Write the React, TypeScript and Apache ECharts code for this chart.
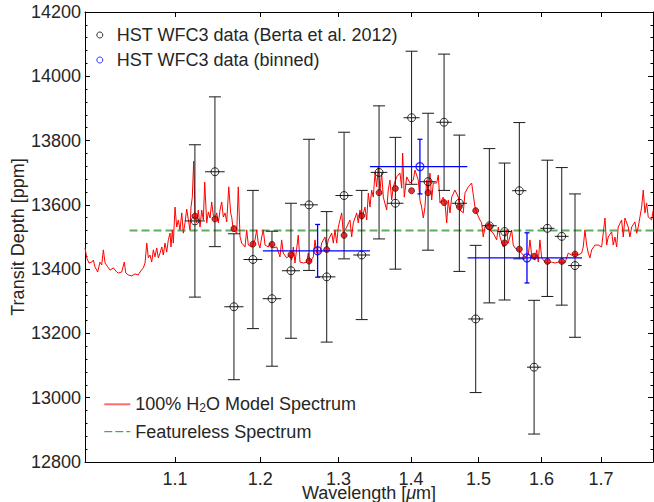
import React, { useEffect, useRef } from 'react';
import * as echarts from 'echarts';

const FONT = '"Liberation Sans", Arial, Helvetica, sans-serif';
const TEXT = '#262626';

// ---- axes ----
const xTickValues = [1.1, 1.2, 1.3, 1.4, 1.5, 1.6, 1.7];
const xMin = 1.0033;
const xMax = 1.793;
const yMin = 12800;
const yMax = 14200;
const yStep = 200;

// ---- names ----
const NAME_DATA = 'HST WFC3 data (Berta et al. 2012)';
const NAME_BINNED = 'HST WFC3 data (binned)';
const NAME_MODEL = '100% H₂O Model Spectrum';
const NAME_FLAT = 'Featureless Spectrum';

// ---- HST WFC3 data (Berta et al. 2012) ----
const dataWavelength = [1.1226, 1.1458, 1.1683, 1.1912, 1.2146, 1.2384, 1.2615, 1.2845, 1.3075, 1.3313, 1.3551, 1.3779, 1.4009, 1.4247, 1.4482, 1.471, 1.4958, 1.5168, 1.5406, 1.564, 1.5878, 1.6095, 1.6333, 1.6556];
const dataDepth = [13550, 13703, 13283, 13430, 13308, 13395, 13600, 13376, 13629, 13444, 13701, 13605, 13871, 13672, 13857, 13605, 13245, 13535, 13517, 13644, 13095, 13527, 13502, 13411];
const dataError = [237, 233, 227, 215, 210, 210, 204, 203, 197, 201, 207, 205, 207, 213, 212, 212, 229, 240, 213, 212, 208, 212, 214, 223];
const dataHalfBin = 0.0115;

// ---- model binned at data wavelengths ----
const modelBinned = [13565, 13556, 13526, 13478, 13477, 13445, 13425, 13461, 13505, 13566, 13638, 13651, 13644, 13638, 13607, 13594, 13582, 13532, 13482, 13462, 13440, 13424, 13424, 13447];

// ---- binned data ----
const binWavelength = [1.2726, 1.4129, 1.5763];
const binLow = [1.2034, 1.3425, 1.4834];
const binHigh = [1.3425, 1.483, 1.6675];
const binDepth = [13457, 13719, 13435];
const binError = [82, 85, 78];

// ---- featureless spectrum ----
const flatDepth = 13520;
const flatWavelength = [1.05, 1.8];

// ---- 100% H2O model spectrum ----
const modelWavelength = [
  1.0033, 1.0051, 1.0074, 1.0102, 1.0119, 1.0136, 1.0164, 1.0188, 1.0206, 1.0223,
  1.0241, 1.0269, 1.0293, 1.0328, 1.0364, 1.0381, 1.0417, 1.0444, 1.046, 1.0487,
  1.0524, 1.0559, 1.0595, 1.0613, 1.0649, 1.0668, 1.0687, 1.0704, 1.0723, 1.0741,
  1.0759, 1.0777, 1.0796, 1.0814, 1.0833, 1.0852, 1.0869, 1.0888, 1.0907, 1.0925,
  1.0944, 1.0955, 1.097, 1.0981, 1.1, 1.1019, 1.1037, 1.1056, 1.1076, 1.1094,
  1.1113, 1.1132, 1.1151, 1.117, 1.1181, 1.1196, 1.1212, 1.1227, 1.1247, 1.1265,
  1.1285, 1.1304, 1.1323, 1.1339, 1.1362, 1.1381, 1.1401, 1.142, 1.1439, 1.1459,
  1.1479, 1.1498, 1.1518, 1.1538, 1.1557, 1.1577, 1.1597, 1.1621, 1.1644, 1.1656,
  1.1675, 1.1716, 1.1735, 1.1756, 1.1776, 1.1816, 1.1836, 1.1856, 1.1897, 1.1937,
  1.1958, 1.1977, 1.1998, 1.2019, 1.2039, 1.206, 1.2101, 1.2122, 1.2163, 1.2205,
  1.2246, 1.2267, 1.2287, 1.233, 1.2372, 1.2393, 1.2414, 1.2435, 1.2477, 1.2499,
  1.2541, 1.2585, 1.2605, 1.2627, 1.267, 1.2692, 1.2714, 1.2757, 1.2779, 1.2822,
  1.2845, 1.2866, 1.2911, 1.2932, 1.2954, 1.2977, 1.2998, 1.3043, 1.3064, 1.311,
  1.3154, 1.3177, 1.3199, 1.3245, 1.3266, 1.3289, 1.3312, 1.3357, 1.3381, 1.3403,
  1.3426, 1.3449, 1.3471, 1.3495, 1.3518, 1.354, 1.3564, 1.3587, 1.361, 1.3657,
  1.3679, 1.3703, 1.3727, 1.3749, 1.3797, 1.3844, 1.3868, 1.3882, 1.3905, 1.3939,
  1.3986, 1.4033, 1.4058, 1.4105, 1.413, 1.4154, 1.4178, 1.4202, 1.4227, 1.425,
  1.4275, 1.43, 1.4323, 1.4373, 1.4397, 1.4422, 1.447, 1.4495, 1.4521, 1.4544,
  1.457, 1.4595, 1.4644, 1.4694, 1.4719, 1.4769, 1.4795, 1.4845, 1.4896, 1.4947,
  1.4973, 1.5023, 1.5049, 1.5074, 1.51, 1.5151, 1.5178, 1.5229, 1.5282, 1.5307,
  1.5334, 1.5386, 1.5412, 1.5439, 1.5464, 1.5518, 1.5543, 1.557, 1.5623, 1.5677,
  1.573, 1.5784, 1.5811, 1.5838, 1.5892, 1.592, 1.5946, 1.5973, 1.6001, 1.6055,
  1.6109, 1.6166, 1.622, 1.6275, 1.6387, 1.6442, 1.6499, 1.6555, 1.6611, 1.6669,
  1.6696, 1.6725, 1.6754, 1.6782, 1.6811, 1.684, 1.6897, 1.6954, 1.7013, 1.7071,
  1.71, 1.7128, 1.7188, 1.7216, 1.7246, 1.7276, 1.7304, 1.7364, 1.7393, 1.7423,
  1.7482, 1.7512, 1.7543, 1.7602, 1.7633, 1.7662, 1.7692, 1.7723, 1.7752, 1.7783,
  1.7814, 1.7843, 1.7905, 1.7934,
];
const modelDepth = [
  13466, 13435, 13419, 13422, 13428, 13407, 13391, 13422, 13413, 13460,
  13419, 13407, 13397, 13404, 13391, 13388, 13391, 13422, 13388, 13382,
  13379, 13385, 13382, 13391, 13404, 13419, 13481, 13435, 13444, 13422,
  13460, 13438, 13466, 13435, 13450, 13469, 13444, 13481, 13453, 13491,
  13512, 13469, 13522, 13481, 13593, 13531, 13553, 13522, 13575, 13512,
  13544, 13587, 13553, 13522, 13593, 13624, 13736, 13575, 13544, 13584,
  13531, 13584, 13553, 13671, 13544, 13578, 13559, 13609, 13568, 13556,
  13575, 13544, 13584, 13609, 13562, 13575, 13547, 13656, 13575, 13562,
  13522, 13512, 13656, 13500, 13481, 13469, 13522, 13475, 13469, 13491,
  13522, 13481, 13466, 13500, 13522, 13475, 13469, 13481, 13466, 13469,
  13438, 13491, 13450, 13435, 13444, 13428, 13469, 13419, 13506, 13422,
  13419, 13422, 13450, 13422, 13438, 13491, 13450, 13450, 13481, 13500,
  13466, 13491, 13512, 13481, 13522, 13481, 13531, 13575, 13512, 13531,
  13553, 13500, 13544, 13575, 13544, 13584, 13553, 13593, 13553, 13637,
  13593, 13646, 13624, 13699, 13656, 13718, 13646, 13699, 13624, 13584,
  13646, 13677, 13615, 13656, 13687, 13699, 13652, 13761, 13624, 13687,
  13668, 13677, 13708, 13677, 13615, 13593, 13559, 13593, 13677, 13637,
  13699, 13615, 13668, 13668, 13693, 13606, 13624, 13606, 13544, 13615,
  13575, 13624, 13646, 13624, 13584, 13575, 13637, 13656, 13668, 13593,
  13575, 13553, 13544, 13500, 13531, 13544, 13522, 13512, 13491, 13531,
  13500, 13469, 13500, 13522, 13481, 13522, 13475, 13466, 13460, 13450,
  13438, 13444, 13491, 13444, 13428, 13460, 13422, 13491, 13435, 13422,
  13419, 13422, 13419, 13422, 13419, 13450, 13444, 13447, 13444, 13450,
  13469, 13522, 13475, 13450, 13435, 13460, 13475, 13475, 13469, 13559,
  13475, 13500, 13516, 13475, 13500, 13469, 13531, 13553, 13500, 13559,
  13531, 13500, 13531, 13547, 13512, 13531, 13562, 13593, 13646, 13575,
  13606, 13562, 13553, 13584,
];

function errorBars(color: string, capHalf: number, lw: number) {
  return (_params: any, api: any) => {
    const x = api.value(0);
    const y = api.value(1);
    const e = api.value(2);
    const lo = api.value(3);
    const hi = api.value(4);
    const t = api.coord([x, y + e]);
    const b = api.coord([x, y - e]);
    const l = api.coord([lo, y]);
    const r = api.coord([hi, y]);
    const style = { stroke: color, lineWidth: lw, fill: 'none' };
    const children: any[] = [
      { type: 'line', shape: { x1: t[0], y1: t[1], x2: b[0], y2: b[1] }, style },
      { type: 'line', shape: { x1: l[0], y1: l[1], x2: r[0], y2: r[1] }, style },
    ];
    if (capHalf > 0) {
      children.push({ type: 'line', shape: { x1: t[0] - capHalf, y1: t[1], x2: t[0] + capHalf, y2: t[1] }, style });
      children.push({ type: 'line', shape: { x1: b[0] - capHalf, y1: b[1], x2: b[0] + capHalf, y2: b[1] }, style });
    }
    return { type: 'group', children };
  };
}

function buildOption(): any {
  const textStyle = { fontFamily: FONT, fontSize: 18, color: TEXT };
  const hiddenSymbol = { color: 'rgba(0,0,0,0)', borderWidth: 0, opacity: 0 };
  const xAxisBase = {
    type: 'log',
    logBase: 10,
    min: xMin,
    max: xMax,
    splitLine: { show: false },
    minorTick: { show: false },
    axisLine: { show: true, onZero: false, lineStyle: { color: '#000', width: 1 } },
    axisTick: { show: true, inside: true, length: 5, customValues: xTickValues, lineStyle: { color: '#000', width: 1 } },
  };
  const yAxisBase = {
    type: 'value',
    min: yMin,
    max: yMax,
    interval: yStep,
    splitLine: { show: false },
    minorSplitLine: { show: false },
    axisLine: { show: true, onZero: false, lineStyle: { color: '#000', width: 1 } },
    axisTick: { show: true, inside: true, length: 5, lineStyle: { color: '#000', width: 1 } },
    minorTick: { show: true, splitNumber: 5, length: 2.5, lineStyle: { color: '#000', width: 1 } },
  };

  return {
    animation: false,
    backgroundColor: '#fff',
    grid: { left: 85, right: 1, top: 12, bottom: 40, containLabel: false, outerBoundsMode: 'none' },
    legend: [
      {
        orient: 'vertical',
        left: 96.3,
        top: 25,
        padding: 0,
        itemGap: 5,
        itemWidth: 24,
        itemHeight: 6,
        selectedMode: false,
        textStyle: { ...textStyle, lineHeight: 20 },
        data: [
          { name: NAME_DATA, icon: 'circle', itemStyle: { color: 'rgba(0,0,0,0)', borderColor: '#000', borderWidth: 1 } },
          { name: NAME_BINNED, icon: 'circle', itemStyle: { color: 'rgba(0,0,0,0)', borderColor: '#0000ff', borderWidth: 1 } },
        ],
      },
      {
        orient: 'vertical',
        left: 103.3,
        top: 394.3,
        padding: 0,
        itemGap: 7.4,
        itemWidth: 26,
        itemHeight: 10,
        selectedMode: false,
        textStyle: {
          ...textStyle,
          lineHeight: 20,
          rich: {
            sub: { fontFamily: FONT, fontSize: 12, color: TEXT, lineHeight: 8, verticalAlign: 'bottom' },
          },
        },
        formatter: (name: string) => (name === NAME_MODEL ? '100% H{sub|2}O Model Spectrum' : name),
        data: [
          { name: NAME_MODEL, itemStyle: hiddenSymbol, lineStyle: { color: '#ff6b6b', width: 2 } },
          { name: NAME_FLAT, itemStyle: hiddenSymbol, lineStyle: { color: '#2e8b2e', width: 1, type: [8, 3] } },
        ],
      },
    ],
    xAxis: [
      {
        ...xAxisBase,
        position: 'bottom',
        axisLabel: {
          show: true,
          customValues: xTickValues,
          margin: 10.5,
          ...textStyle,
          lineHeight: 13,
          formatter: (v: number) => Number(v).toFixed(1),
        },
        name: 'Wavelength [{i|μ}m]',
        nameLocation: 'middle',
        nameGap: 24.2,
        nameMoveOverlap: false,
        nameTextStyle: {
          ...textStyle,
          lineHeight: 14,
          rich: { i: { fontFamily: FONT, fontSize: 18, color: TEXT, fontStyle: 'italic', lineHeight: 14 } },
        },
      },
      {
        ...xAxisBase,
        position: 'top',
        axisLabel: { show: false, customValues: xTickValues },
      },
    ],
    yAxis: [
      {
        ...yAxisBase,
        position: 'left',
        axisLabel: { show: true, margin: 4, ...textStyle, formatter: (v: number) => String(v) },
        name: 'Transit Depth [ppm]',
        nameLocation: 'middle',
        nameGap: 58,
        nameMoveOverlap: false,
        nameTextStyle: { ...textStyle },
      },
      {
        ...yAxisBase,
        position: 'right',
        axisLabel: { show: false },
      },
    ],
    series: [
      {
        name: NAME_FLAT,
        type: 'line',
        data: flatWavelength.map((w) => [w, flatDepth]),
        symbol: 'none',
        showSymbol: false,
        lineStyle: { color: '#5fae5f', width: 2, type: [8, 4] },
        itemStyle: { color: '#5fae5f' },
        z: 1,
        silent: true,
      },
      {
        name: NAME_MODEL,
        type: 'line',
        data: modelWavelength.map((w, i) => [w, modelDepth[i]]),
        symbol: 'none',
        showSymbol: false,
        lineStyle: { color: '#ff0000', width: 1 },
        itemStyle: { color: '#ff0000' },
        z: 2,
        silent: true,
      },
      {
        name: 'data-errors',
        type: 'custom',
        renderItem: errorBars('#1a1a1a', 6, 1),
        data: dataWavelength.map((w, i) => [w, dataDepth[i], dataError[i], w - dataHalfBin, w + dataHalfBin]),
        encode: { x: 0, y: 1 },
        z: 3,
        silent: true,
      },
      {
        name: NAME_DATA,
        type: 'scatter',
        data: dataWavelength.map((w, i) => [w, dataDepth[i]]),
        symbol: 'circle',
        symbolSize: 8,
        itemStyle: { color: 'rgba(0,0,0,0)', borderColor: '#000', borderWidth: 1 },
        z: 4,
        silent: true,
      },
      {
        name: 'model-binned',
        type: 'scatter',
        data: dataWavelength.map((w, i) => [w, modelBinned[i]]),
        symbol: 'circle',
        symbolSize: 6,
        itemStyle: { color: '#e00000', borderColor: '#330000', borderWidth: 0.8 },
        z: 5,
        silent: true,
      },
      {
        name: 'binned-errors',
        type: 'custom',
        renderItem: errorBars('#0000ff', 2.5, 1.3),
        data: binWavelength.map((w, i) => [w, binDepth[i], binError[i], binLow[i], binHigh[i]]),
        encode: { x: 0, y: 1 },
        z: 6,
        silent: true,
      },
      {
        name: NAME_BINNED,
        type: 'scatter',
        data: binWavelength.map((w, i) => [w, binDepth[i]]),
        symbol: 'circle',
        symbolSize: 8,
        itemStyle: { color: 'rgba(0,0,0,0)', borderColor: '#0000ff', borderWidth: 1.3 },
        z: 7,
        silent: true,
      },
    ],
  };
}

export default function App() {
  const ref = useRef<HTMLDivElement>(null);
  useEffect(() => {
    if (!ref.current) return;
    const chart = echarts.init(ref.current, undefined, { renderer: 'svg' });
    chart.setOption(buildOption());
    return () => chart.dispose();
  }, []);
  return (
    <div
      ref={ref}
      style={{ position: 'absolute', left: 0, top: 0, width: 654, height: 502, background: '#fff' }}
    />
  );
}
